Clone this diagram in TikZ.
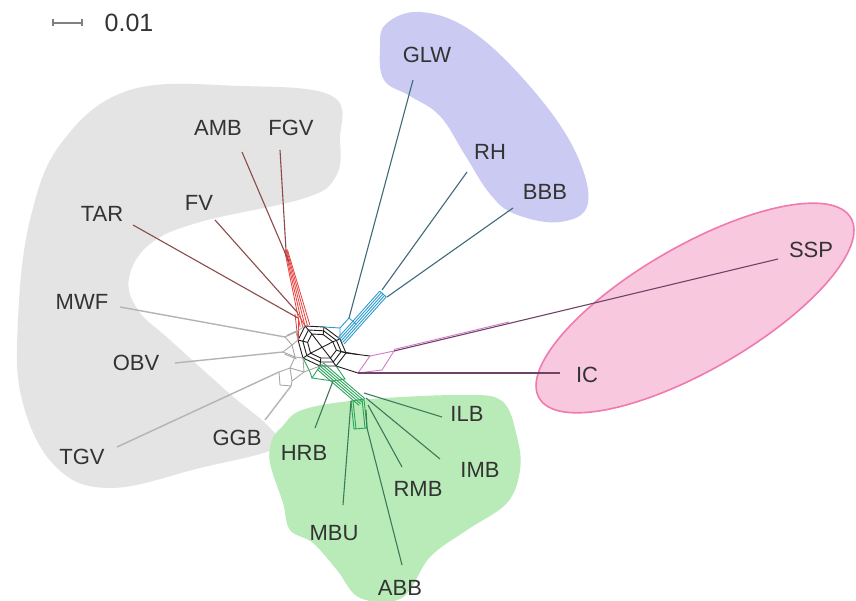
\documentclass[tikz,border=0pt]{standalone}
\usepackage{fontspec}
\setmainfont{Liberation Sans}
\usetikzlibrary{calc}
\definecolor{txt}{HTML}{333333}
\definecolor{grayfill}{HTML}{E4E4E4}
\definecolor{bluefill}{HTML}{CACAF2}
\definecolor{greenfill}{HTML}{B8EBB8}
\definecolor{pinkfill}{HTML}{F8C8DE}
\definecolor{pinkline}{HTML}{F07AB0}
\definecolor{redleaf}{HTML}{8C4A4A}
\definecolor{blueleaf}{HTML}{3F6B78}
\definecolor{grayleaf}{HTML}{B4B4B4}
\definecolor{greenleaf}{HTML}{3C7A5A}
\definecolor{pinkleaf}{HTML}{6E4466}
\definecolor{redstr}{HTML}{E8403C}
\definecolor{bluestr}{HTML}{2E9AD0}
\definecolor{greenstr}{HTML}{2AA55A}
\definecolor{pinkstr}{HTML}{D67AC8}
\definecolor{graystr}{HTML}{A8A8A8}
\definecolor{corestr}{HTML}{1E1E1E}
\begin{document}
\begin{tikzpicture}[x=1pt,y=-1pt,
  lab/.style={text=txt,font=\fontsize{22}{24}\selectfont,inner sep=0pt},
  leafred/.style={draw=redleaf,line width=1.1pt},
  leafblue/.style={draw=blueleaf,line width=1.1pt},
  leafgray/.style={draw=grayleaf,line width=1.4pt},
  leafgreen/.style={draw=greenleaf,line width=1.1pt},
  leafpink/.style={draw=pinkleaf,line width=1.1pt},
  sred/.style={draw=redstr,line width=0.8pt},
  sblue/.style={draw=bluestr,line width=0.9pt},
  sgreen/.style={draw=greenstr,line width=0.9pt},
  spink/.style={draw=pinkstr,line width=0.9pt},
  sgray/.style={draw=graystr,line width=0.9pt},
  score/.style={draw=corestr,line width=0.9pt}]
\useasboundingbox (0,0) rectangle (856,601);
\fill[white] (0,0) rectangle (856,601);

% ---------- background groups ----------
\fill[grayfill] plot[smooth cycle,tension=0.65] coordinates {
 (130,90) (240,86) (332,96) (340,140) (336,176) (305,198) (200,222) (150,244)
 (129,278) (138,310) (170,340) (230,394) (270,428) (276,448) (200,468) (110,488)
 (55,466) (22,400) (18,320) (30,220) (62,142)};
\fill[bluefill] plot[smooth cycle,tension=0.65] coordinates {
 (386,24) (420,12) (470,30) (527,83) (573,147) (588,203) (560,222) (515,214)
 (490,194) (465,155) (440,116) (410,96) (384,80) (380,48)};
\fill[greenfill] plot[smooth cycle,tension=0.6] coordinates {
 (282,427) (302,410) (360,400) (460,395) (502,401) (517,437) (520,470) (507,503)
 (467,530) (430,557) (402,598) (360,598) (337,570) (313,543) (290,530) (283,503)
 (270,463) (272,440)};
\filldraw[fill=pinkfill,draw=pinkline,line width=1.6pt]
  (695,308) ellipse[x radius=180,y radius=62,rotate=30];

% ---------- scale bar ----------
\coordinate (s1) at (53,23);
\coordinate (s2) at (82,23);
\draw[gray,line width=1.3pt] (s1) -- (s2);
\draw[gray,line width=1.3pt] ([yshift=-3.5]s1) -- ([yshift=3.5]s1);
\draw[gray,line width=1.3pt] ([yshift=-3.5]s2) -- ([yshift=3.5]s2);
\node[text=txt,font=\fontsize{25}{27}\selectfont,inner sep=0pt] (scale) at (129,23) {0.01};

% ---------- labels ----------
\node[lab] (GLW) at (427,55) {GLW};
\node[lab] (RH)  at (490,152) {RH};
\node[lab] (BBB) at (545,192) {BBB};
\node[lab] (SSP) at (811,250) {SSP};
\node[lab] (IC)  at (587,375) {IC};
\node[lab] (ILB) at (467,414) {ILB};
\node[lab] (IMB) at (480,470) {IMB};
\node[lab] (RMB) at (418,489) {RMB};
\node[lab] (HRB) at (304,453) {HRB};
\node[lab] (MBU) at (334,533) {MBU};
\node[lab] (ABB) at (400,588) {ABB};
\node[lab] (GGB) at (237,438) {GGB};
\node[lab] (TGV) at (82,457) {TGV};
\node[lab] (OBV) at (136,363) {OBV};
\node[lab] (MWF) at (82,302) {MWF};
\node[lab] (TAR) at (102,214) {TAR};
\node[lab] (FV)  at (199,203) {FV};
\node[lab] (AMB) at (218,128) {AMB};
\node[lab] (FGV) at (291,128) {FGV};

% ---------- leaf end points ----------
\coordinate (eGLW) at (413,80);
\coordinate (eRH)  at (467,172);
\coordinate (eBBB) at (513,208);
\coordinate (eSSP) at (778,259);
\coordinate (eIC)  at (560,373);
\coordinate (eILB) at (442,417);
\coordinate (eIMB) at (440,459);
\coordinate (eRMB) at (402,467);
\coordinate (eHRB) at (315,428);
\coordinate (eMBU) at (343,505);
\coordinate (eABB) at (402,565);
\coordinate (eGGB) at (265,420);
\coordinate (eTGV) at (117,447);
\coordinate (eOBV) at (175,363);
\coordinate (eMWF) at (120,307);
\coordinate (eTAR) at (133,225);
\coordinate (eFV)  at (215,220);
\coordinate (eAMB) at (242,152);
\coordinate (eFGV) at (280,150);

% ---------- core ----------
\coordinate (P1) at (305,326);
\coordinate (P2) at (324,327);
\coordinate (P3) at (340,339);
\coordinate (P4) at (346,353);
\coordinate (P5) at (336,366);
\coordinate (P6) at (320,366);
\coordinate (P7) at (303,358);
\coordinate (P8) at (298,340);
\coordinate (C0) at (322,346);
\foreach \i in {1,...,8} {
  \coordinate (Q\i) at ($(C0)!0.6!(P\i)$);
  \coordinate (R\i) at ($(C0)!0.8!(P\i)$);
}
\draw[score] (P1) -- (P2) -- (P3) -- (P4) -- (P5) -- (P6) -- (P7) -- (P8) -- cycle;
\draw[score] (R1) -- (R2) -- (R3) -- (R4) -- (R5) -- (R6) -- (R7) -- (R8) -- cycle;
\draw[score] (Q1) -- (Q2) -- (Q3) -- (Q4) -- (Q5) -- (Q6) -- (Q7) -- (Q8) -- cycle;
\foreach \i in {1,...,8} { \draw[score] (P\i) -- (Q\i); }
\draw[score] (Q1) -- (Q5); \draw[score] (Q3) -- (Q7);

% ---------- red group ----------
\coordinate (rT) at (286,250);
\coordinate (rB) at (305,326);
\coordinate (rA) at (289,262);
\coordinate (rF) at (297,312);
\coordinate (rR) at (298,318);
\foreach \k in {-2,...,2} {
  \draw[sred] ([shift={(\k*0.7,-\k*0.18)}]rT) -- ([shift={(\k*2.4,-\k*0.6)}]rB);
}
\draw[sred] (rF) -- (P1); \draw[sred] (rR) -- (P8);
\draw[sred] ([shift={(-2,2)}]rF) -- (P8);
\draw[leafred] (eFGV) -- (rT);
\draw[leafred] (eAMB) -- (rA);
\draw[leafred] (eFV) -- (rF);
\draw[leafred] (eTAR) -- (rR);

% ---------- blue group ----------
\coordinate (bT) at (383,294);
\coordinate (bB) at (341,341);
\coordinate (bR) at (382,290);
\coordinate (bBB) at (387,297);
\coordinate (bG) at (349,318);
\coordinate (bG2) at (340,328);
\foreach \k in {-2,...,2} {
  \draw[sblue] ([shift={(\k*1.6,\k*1.45)}]bT) -- ([shift={(\k*1.6,\k*1.45)}]bB);
}
\draw[sblue] ([shift={(-3.2,-2.9)}]bT) -- ([shift={(3.2,2.9)}]bT);
\draw[sblue] (bG) -- (356,324);
\draw[sblue] (bG) -- (bG2) -- (P3);
\draw[sblue] (bG2) -- (P2);
\draw[leafblue] (eRH) -- (bR);
\draw[leafblue] (eBBB) -- (bBB);
\draw[leafblue] (eGLW) -- (bG);

% ---------- pink group ----------
\coordinate (pA) at (370,356);
\coordinate (pB) at (394,351);
\coordinate (pC) at (382,370);
\coordinate (pD) at (358,373);
\draw[score] (P4) -- (pA);
\draw[score] (P5) -- (pD);
\draw[score] (R4) -- ($(P4)!0.5!(pA)$);
\draw[spink] (pA) -- (pB) -- (pC) -- (pD) -- cycle;
\draw[leafpink] (pB) -- (eSSP);
\draw[leafpink] (pD) -- (eIC);
\draw[spink] ([yshift=1.5]pB) -- ($([yshift=1.5]pB)!0.3!([yshift=1.5]eSSP)$);

% ---------- green group ----------
\coordinate (gT) at (320,366);
\coordinate (gB) at (362,402);
\coordinate (gH) at (333,381);
\coordinate (g1) at (351,401);
\coordinate (g2) at (364,399);
\coordinate (g3) at (367,428);
\coordinate (g4) at (354,429);
\foreach \k in {-2,...,2} {
  \draw[sgreen] ([shift={(\k*1.44,-\k*1.68)}]gT) -- ([shift={(\k*1.44,-\k*1.68)}]gB);
}
\draw[sgreen] (P6) -- (312,378) -- (gH);
\draw[sgreen] (P7) -- (310,372) -- (312,378);
\draw[sgreen] (gH) -- (345,379) -- (P5);
\draw[sgreen] (g1) -- (g2) -- (g3) -- (g4) -- cycle;
\draw[sgreen] ([xshift=2]g1) -- ([xshift=2]g4);
\draw[sgreen] ([xshift=-2]g2) -- ([xshift=-2]g3);
\draw[leafgreen] (eHRB) -- (gH);
\draw[leafgreen] (eMBU) -- (g1);
\draw[leafgreen] (eABB) -- (g3) -- (366,410);
\draw[leafgreen] (eRMB) -- (368,405);
\draw[leafgreen] (eIMB) -- (366,398);
\draw[leafgreen] (eILB) -- (364,393);

% ---------- gray group ----------
\coordinate (Gm) at (285,337);
\coordinate (Go) at (283,352);
\coordinate (Gt) at (279,372);
\coordinate (Gg) at (291,386);
\coordinate (m1) at (296,332);
\coordinate (m2) at (292,345);
\coordinate (m3) at (295,357);
\coordinate (m4) at (290,368);
\coordinate (m5) at (292,381);
\coordinate (m6) at (304,372);
\draw[sgray] (Gm) -- (m1) -- (P1);
\draw[sgray] (m1) -- (P8);
\draw[sgray] (Gm) -- (m2) -- (P8);
\draw[sgray] (Go) -- (m2);
\draw[sgray] (Go) -- (m3) -- (m2);
\draw[sgray] (m3) -- (P7);
\draw[sgray] (Gt) -- (m4) -- (m3);
\draw[sgray] (Gt) -- (280,385) -- (Gg);
\draw[sgray] (m4) -- (m5) -- (Gg);
\draw[sgray] (m5) -- (m6) -- (P7);
\draw[sgray] (m4) -- (m6);
\draw[sgray] (m6) -- (P6);
\draw[sgray] ([shift={(1.5,-1.5)}]Gm) -- ([shift={(1.5,-1.5)}]m1);
\draw[sgray] ([shift={(1.5,2)}]Go) -- ([shift={(1.5,2)}]m3);
\draw[leafgray] (eMWF) -- (Gm);
\draw[leafgray] (eOBV) -- (Go);
\draw[leafgray] (eTGV) -- (Gt);
\draw[leafgray] (eGGB) -- (Gg);
\end{tikzpicture}
\end{document}
